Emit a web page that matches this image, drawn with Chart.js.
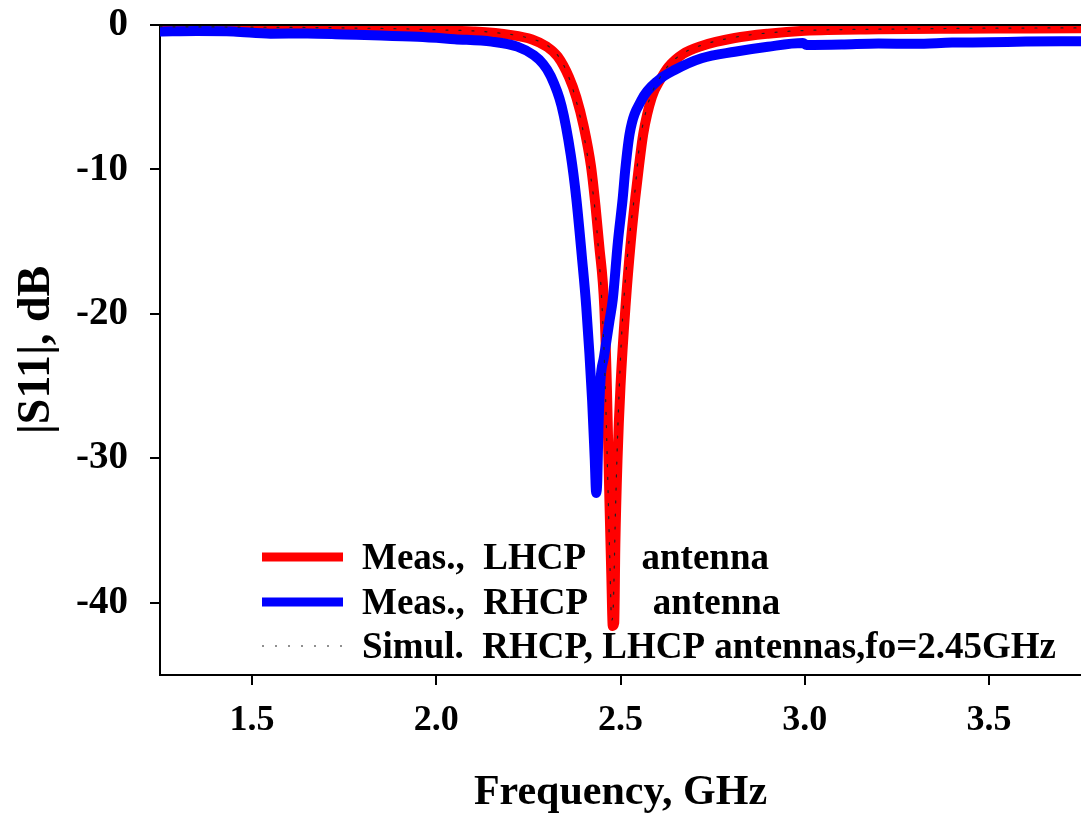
<!DOCTYPE html>
<html>
<head>
<meta charset="utf-8">
<script src="https://cdn.jsdelivr.net/npm/chart.js@4.4.0/dist/chart.umd.min.js"></script>
<style>
  html, body { margin: 0; padding: 0; background: #fff; }
  #wrap { width: 1081px; height: 814px; }
</style>
</head>
<body>
<div id="wrap"><canvas id="s11Chart" width="1081" height="814"></canvas></div>
<script>
// Measured LHCP antenna |S11| (dB)
const redFreq = [1.25, 1.4, 1.55, 1.7, 1.85, 2.0, 2.1, 2.2, 2.26, 2.3, 2.33, 2.36, 2.38, 2.40, 2.42, 2.432, 2.442, 2.456, 2.463, 2.47, 2.475, 2.479, 2.483, 2.486, 2.492, 2.50, 2.515, 2.528, 2.54, 2.55, 2.562, 2.585, 2.61, 2.63, 2.67, 2.72, 2.81, 2.9, 3.0, 3.2, 3.4, 3.6, 3.75];
const redDb = [-0.15, -0.15, -0.18, -0.22, -0.27, -0.36, -0.45, -0.68, -1.0, -1.5, -2.2, -3.6, -5.0, -7.0, -9.8, -12.5, -15.2, -19.5, -25, -33, -38, -41.6, -41.4, -36, -30, -25, -19, -15, -12, -9.8, -7.5, -5.0, -3.7, -2.9, -2.0, -1.45, -0.9, -0.6, -0.4, -0.3, -0.26, -0.24, -0.22];

// Measured RHCP antenna |S11| (dB)
const blueFreq = [1.25, 1.35, 1.45, 1.55, 1.65, 1.75, 1.85, 1.95, 2.05, 2.15, 2.22, 2.265, 2.29, 2.31, 2.34, 2.365, 2.38, 2.395, 2.407, 2.423, 2.43, 2.434, 2.437, 2.44, 2.446, 2.455, 2.47, 2.479, 2.493, 2.506, 2.513, 2.525, 2.557, 2.604, 2.648, 2.72, 2.81, 2.9, 2.995, 3.005, 3.1, 3.2, 3.3, 3.4, 3.5, 3.6, 3.75];
const blueDb = [-0.45, -0.42, -0.45, -0.6, -0.58, -0.65, -0.72, -0.82, -0.98, -1.15, -1.5, -2.1, -2.7, -3.5, -5.6, -9.0, -12, -16, -19.5, -26, -30, -32.4, -31.5, -28, -24.5, -23, -20.5, -19, -15, -12, -10, -7.5, -5.2, -3.8, -3.1, -2.3, -1.85, -1.5, -1.25, -1.38, -1.35, -1.28, -1.3, -1.22, -1.2, -1.15, -1.12];

// Simulated RHCP / LHCP |S11| (dB)
const simFreq = [1.25, 1.5, 1.75, 2.0, 2.15, 2.25, 2.3, 2.33, 2.355, 2.375, 2.395, 2.415, 2.43, 2.44, 2.45, 2.458, 2.465, 2.471, 2.476, 2.48, 2.486, 2.494, 2.502, 2.512, 2.525, 2.538, 2.552, 2.566, 2.582, 2.608, 2.63, 2.67, 2.72, 2.81, 2.9, 3.0, 3.25, 3.5, 3.75];
const simDb = [-0.12, -0.15, -0.2, -0.33, -0.5, -0.9, -1.4, -2.1, -3.3, -4.8, -6.9, -9.8, -12.6, -15.5, -19.5, -24.5, -31, -37, -41.2, -40.5, -34, -27, -22, -18, -14.5, -11.8, -8.2, -6.3, -4.9, -3.6, -2.8, -1.95, -1.4, -0.85, -0.55, -0.38, -0.28, -0.22, -0.2];

const seriesLabels = ["Meas.,  LHCP      antenna", "Meas.,  RHCP       antenna", "Simul.  RHCP, LHCP antennas,fo=2.45GHz"];
const xTicks = [1.5, 2.0, 2.5, 3.0, 3.5];
const yTicks = [0, -10, -20, -30, -40];

const serif = "'Liberation Serif', 'Times New Roman', serif";

function toPoints(freq, db) {
    return freq.map((f, i) => ({ x: f, y: db[i] }));
}

// drop the label overflow padding so the plot box is set by layout.padding only
function noOverflow(scale) {
    scale.paddingTop = 0;
    scale.paddingBottom = 0;
    scale.paddingLeft = 0;
    scale.paddingRight = 0;
}

// legend drawn inside the plot, lower left
const insideLegend = {
    id: "insideLegend",
    afterDatasetsDraw(chart) {
        const ctx = chart.ctx;
        const rows = [557, 602, 646];
        ctx.save();
        chart.data.datasets.forEach((ds, i) => {
            const y = rows[i];
            ctx.beginPath();
            ctx.strokeStyle = ds.borderColor;
            if (ds.borderDash && ds.borderDash.length) {
                ctx.lineWidth = 1.2;
                ctx.setLineDash([2, 11]);
            } else {
                ctx.lineWidth = 9;
                ctx.setLineDash([]);
            }
            ctx.moveTo(262, y);
            ctx.lineTo(343, y);
            ctx.stroke();
            ctx.setLineDash([]);
            ctx.fillStyle = "#000";
            ctx.font = "bold 37px " + serif;
            ctx.textBaseline = "middle";
            ctx.textAlign = "left";
            ctx.fillText(ds.label, 362, y + 2);
        });
        // top frame line
        const a = chart.chartArea;
        ctx.beginPath();
        ctx.strokeStyle = "#000";
        ctx.lineWidth = 2;
        ctx.moveTo(a.left, a.top);
        ctx.lineTo(a.right, a.top);
        ctx.stroke();
        ctx.restore();
    }
};

const ctx = document.getElementById("s11Chart").getContext("2d");

new Chart(ctx, {
    type: "line",
    data: {
        datasets: [
            {
                label: seriesLabels[0],
                data: toPoints(redFreq, redDb),
                borderColor: "#ff0000",
                borderWidth: 10,
                order: 3
            },
            {
                label: seriesLabels[1],
                data: toPoints(blueFreq, blueDb),
                borderColor: "#0000ff",
                borderWidth: 10,
                order: 2
            },
            {
                label: seriesLabels[2],
                data: toPoints(simFreq, simDb),
                borderColor: "#222222",
                borderWidth: 1.2,
                borderDash: [2, 11],
                order: 1
            }
        ]
    },
    options: {
        responsive: false,
        animation: false,
        layout: { padding: { top: 25, right: 0, left: 0, bottom: 0 } },
        elements: {
            point: { radius: 0 },
            line: { cubicInterpolationMode: "monotone", borderJoinStyle: "round", borderCapStyle: "round", fill: false }
        },
        plugins: {
            legend: { display: false },
            tooltip: { enabled: false }
        },
        scales: {
            x: {
                type: "linear",
                min: 1.25,
                max: 3.75,
                afterBuildTicks: (scale) => { scale.ticks = xTicks.map(v => ({ value: v })); },
                afterFit: (scale) => { scale.height = 139; noOverflow(scale); },
                grid: { drawOnChartArea: false, drawTicks: true, tickLength: 10, color: "#000", lineWidth: 2 },
                border: { display: true, color: "#000", width: 2 },
                ticks: {
                    color: "#000",
                    padding: 14,
                    maxRotation: 0,
                    font: { family: serif, size: 36, weight: "bold" },
                    callback: (v) => Number(v).toFixed(1)
                },
                title: {
                    display: true,
                    text: "Frequency, GHz",
                    color: "#000",
                    padding: 0,
                    font: { family: serif, size: 42, weight: "bold", lineHeight: 1 }
                }
            },
            y: {
                min: -45,
                max: 0,
                afterBuildTicks: (scale) => { scale.ticks = yTicks.map(v => ({ value: v })); },
                afterFit: (scale) => { scale.width = 160; noOverflow(scale); },
                grid: { drawOnChartArea: false, drawTicks: true, tickLength: 10, color: "#000", lineWidth: 2 },
                border: { display: true, color: "#000", width: 2 },
                ticks: {
                    color: "#000",
                    padding: 22,
                    font: { family: serif, size: 39, weight: "bold" },
                    callback: (v) => String(v)
                },
                title: {
                    display: true,
                    text: "|S11|, dB",
                    color: "#000",
                    padding: { top: 14, bottom: 0 },
                    font: { family: serif, size: 46, weight: "bold", lineHeight: 1 }
                }
            }
        }
    },
    plugins: [insideLegend]
});
</script>
</body>
</html>
